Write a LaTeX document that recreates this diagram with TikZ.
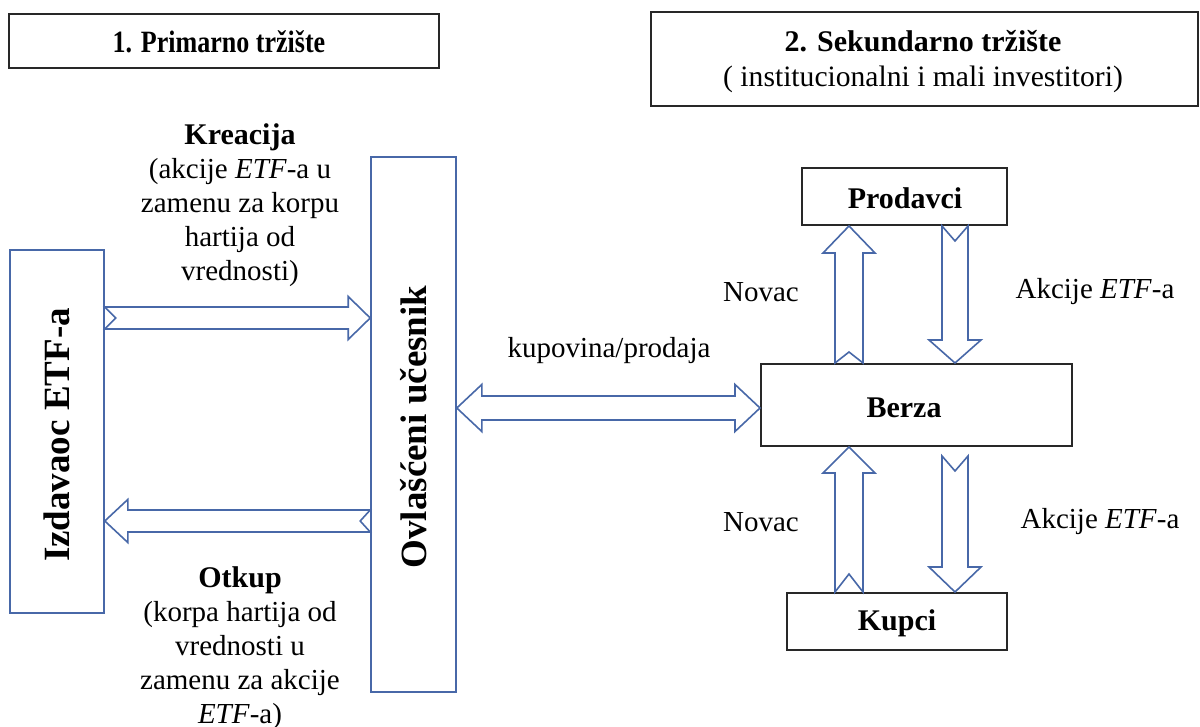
\documentclass[tikz,border=0pt]{standalone}
\usepackage{fontspec}
\setmainfont{Liberation Serif}
\usetikzlibrary{calc}
\definecolor{arrowblue}{RGB}{72,104,168}
\definecolor{boxgray}{RGB}{40,40,40}
\newcommand{\blockarrow}[6]{%
  \path ($(#2)!#5!(#1)$) coordinate (bh);
  \draw[barrow] ($(#1)!#3!90:(#2)$) -- ($(bh)!#3!90:(#2)$) -- ($(bh)!#4!90:(#2)$) -- (#2)
    -- ($(bh)!#4!-90:(#2)$) -- ($(bh)!#3!-90:(#2)$) -- ($(#1)!#3!-90:(#2)$) -- ($(#1)!#6!(#2)$) -- cycle;}
\newcommand{\dblockarrow}[5]{%
  \path ($(#1)!#5!(#2)$) coordinate (ha) ($(#2)!#5!(#1)$) coordinate (hb);
  \draw[barrow] (#1) -- ($(ha)!#4!90:(#2)$) -- ($(ha)!#3!90:(#2)$) -- ($(hb)!#3!-90:(#1)$)
    -- ($(hb)!#4!-90:(#1)$) -- (#2) -- ($(hb)!#4!90:(#1)$) -- ($(hb)!#3!90:(#1)$)
    -- ($(ha)!#3!-90:(#2)$) -- ($(ha)!#4!-90:(#2)$) -- cycle;}
\begin{document}
\begin{tikzpicture}[x=0.5pt,y=-0.5pt,
  blackbox/.style={draw=boxgray,line width=1pt,inner sep=0pt,align=center},
  bluebox/.style={draw=arrowblue,line width=0.8pt,inner sep=0pt},
  barrow/.style={draw=arrowblue,line width=0.8pt,fill=white,line join=miter},
  txt/.style={inner sep=0pt,align=center,font=\fontsize{14.5}{17}\selectfont},
  btxt/.style={inner sep=0pt,align=center,font=\fontsize{15}{17}\selectfont\bfseries},
  vtxt/.style={inner sep=0pt,rotate=90,font=\fontsize{18.5}{20}\selectfont\bfseries}]
\useasboundingbox (0,0) rectangle (1200,727);
\fill[white] (0,0) rectangle (1200,727);

% title boxes
\node[blackbox,minimum width=215pt,minimum height=27pt] (prim) at (224,41) {};
\node[btxt,font=\fontsize{15.5}{17}\selectfont\bfseries] (primt) at (219,42) {\scalebox{0.84}[1]{1. Primarno tržište}};
\node[blackbox,minimum width=273.5pt,minimum height=47pt] (sek) at (924.5,59) {};
\node[txt,font=\fontsize{14.8}{17.5}\selectfont] (sekt) at (923,62) {{\bfseries\fontsize{15}{17.5}\selectfont 2. Sekundarno tržište}\\( institucionalni i mali investitori)};

% primary market boxes
\node[bluebox,minimum width=47pt,minimum height=181.5pt] (izd) at (57,431.5) {};
\node[vtxt] (izdt) at (57,435) {Izdavaoc ETF-a};
\node[bluebox,minimum width=42.5pt,minimum height=267.5pt] (ovl) at (413.5,424.5) {};
\node[vtxt] (ovlt) at (414,427) {Ovlašćeni učesnik};

% secondary market boxes
\node[blackbox,minimum width=155.5pt,minimum height=41pt] (berza) at (916.5,405) {};
\node[btxt] (berzat) at (904,408) {Berza};
\node[blackbox,minimum width=102.5pt,minimum height=28.5pt] (prod) at (904.5,196.5) {};
\node[btxt] (prodt) at (905,198) {Prodavci};
\node[blackbox,minimum width=110pt,minimum height=28.5pt] (kupci) at (897,621.5) {};
\node[btxt] (kupcit) at (897,623) {Kupci};

% labels
\node[txt] (krea) at (240,205) {{\bfseries\fontsize{15}{17}\selectfont Kreacija}\\(akcije \textit{ETF}-a u\\zamenu za korpu\\hartija od\\vrednosti)};
\node[txt] (otk) at (240,648) {{\bfseries\fontsize{15}{17}\selectfont Otkup}\\(korpa hartija od\\vrednosti u\\zamenu za akcije\\\textit{ETF}-a)};
\node[txt] (kp) at (609,351) {kupovina/prodaja};
\node[txt] (nov1) at (761,292) {Novac};
\node[txt] (akc1) at (1095,292) {Akcije \textit{ETF}-a};
\node[txt] (nov2) at (761,522) {Novac};
\node[txt] (akc2) at (1100,522) {Akcije \textit{ETF}-a};

% connector end points
\coordinate (a1t) at (izd.east |- 0,318);
\coordinate (a1h) at (ovl.west |- 0,318);
\coordinate (a2t) at (ovl.west |- 0,521);
\coordinate (a2h) at (izd.east |- 0,521);
\coordinate (a3l) at (ovl.east |- 0,408);
\coordinate (a3r) at (berza.west |- 0,408);
\coordinate (a4t) at (berza.north -| 849,0);
\coordinate (a4h) at (prod.south -| 849,0);
\coordinate (a5t) at (prod.south -| 955,0);
\coordinate (a5h) at (berza.north -| 955,0);
\coordinate (a6t) at (kupci.north -| 849,0);
\coordinate (a6h) at (berza.south -| 849,0);
\coordinate (a7t) at ($(berza.south -| 955,0)+(0,9)$);
\coordinate (a7h) at (kupci.north -| 955,0);

% block arrows
\blockarrow{a1t}{a1h}{5.5pt}{10.75pt}{11pt}{5.5pt}
\blockarrow{a2t}{a2h}{5.5pt}{10.75pt}{11.5pt}{5pt}
\dblockarrow{a3l}{a3r}{6pt}{11.75pt}{12.5pt}
\blockarrow{a4t}{a4h}{7pt}{13pt}{13.5pt}{5.5pt}
\blockarrow{a5t}{a5h}{6.5pt}{13pt}{11.5pt}{7.5pt}
\blockarrow{a6t}{a6h}{7pt}{13pt}{13pt}{9pt}
\blockarrow{a7t}{a7h}{6.5pt}{13pt}{12.5pt}{7.5pt}
\end{tikzpicture}
\end{document}
